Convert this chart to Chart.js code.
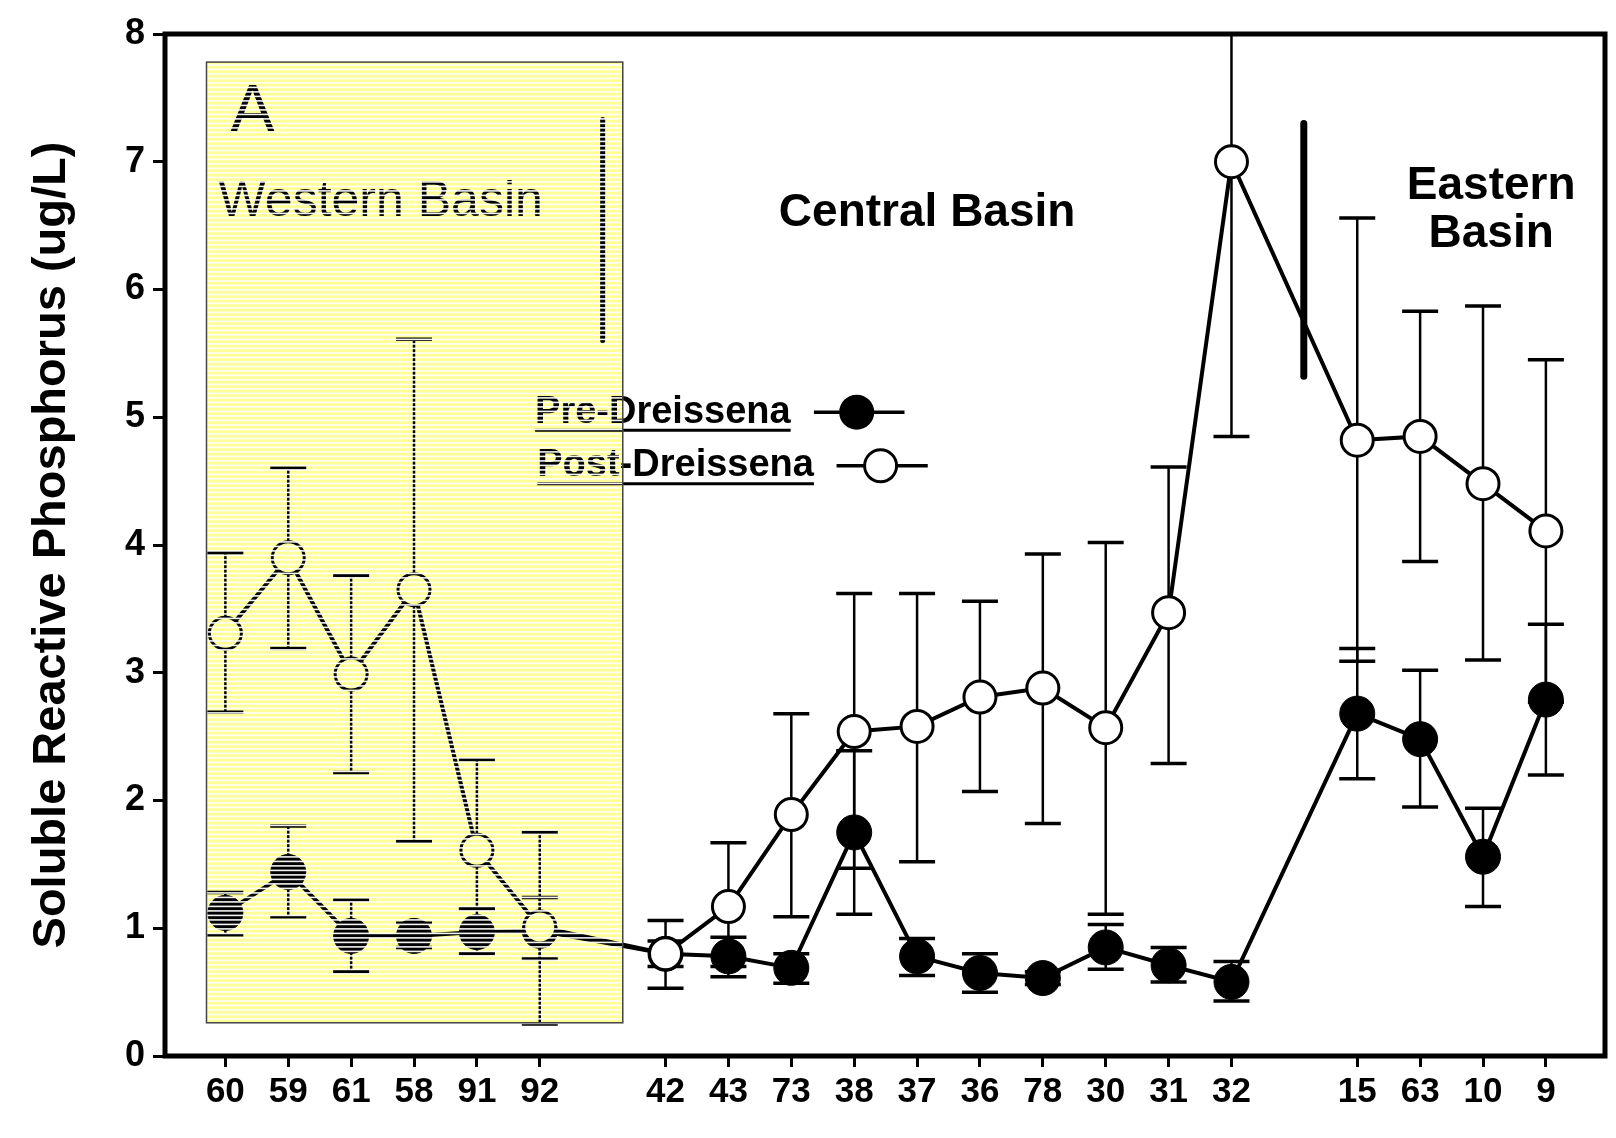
<!DOCTYPE html>
<html>
<head>
<meta charset="utf-8">
<script src="https://cdn.jsdelivr.net/npm/chart.js@4.4.1/dist/chart.umd.min.js"></script>
<style>
  html, body { margin: 0; padding: 0; background: #fff; }
  #wrap { width: 1616px; height: 1138px; }
</style>
</head>
<body>
<div id="wrap"><canvas id="srpChart" width="1616" height="1138"></canvas></div>
<script>
// stations along the lake, '' = gap between basins
const stations = ['60', '59', '61', '58', '91', '92', '', '42', '43', '73', '38', '37', '36', '78', '30', '31', '32', '', '15', '63', '10', '9'];

// Pre-Dreissena means and error bar ends
const pre     = [1.12, 1.44, 0.94, 0.94, 0.97, 0.98, null, 0.80, 0.78, 0.69, 1.75, 0.78, 0.65, 0.61, 0.85, 0.71, 0.58, null, 2.68, 2.48, 1.56, 2.79];
const preLow  = [0.95, 1.09, 0.66, 0.85, 0.80, 0.76, null, 0.70, 0.62, 0.57, 1.11, 0.63, 0.50, 0.56, 0.68, 0.58, 0.43, null, 2.17, 1.95, 1.17, 2.20];
const preHigh = [1.28, 1.80, 1.22, 1.04, 1.15, 1.24, null, 0.90, 0.93, 0.80, 2.39, 0.92, 0.80, 0.66, 1.03, 0.85, 0.74, null, 3.19, 3.02, 1.94, 3.38];

// Post-Dreissena means and error bar ends
const post     = [3.31, 3.90, 2.99, 3.65, 1.61, 1.01, null, 0.80, 1.17, 1.89, 2.54, 2.58, 2.81, 2.88, 2.57, 3.47, 7.00, null, 4.82, 4.85, 4.48, 4.11];
const postLow  = [2.69, 3.19, 2.22, 1.68, 1.15, 0.25, null, 0.53, 0.70, 1.09, 1.47, 1.52, 2.07, 1.82, 1.11, 2.29, 4.85, null, 3.09, 3.87, 3.10, 2.77];
const postHigh = [3.94, 4.60, 3.76, 5.61, 2.32, 1.75, null, 1.06, 1.67, 2.68, 3.62, 3.62, 3.56, 3.93, 4.02, 4.61, 9.15, null, 6.56, 5.83, 5.87, 5.45];

const yTicks = [0, 1, 2, 3, 4, 5, 6, 7, 8];

const FONT = '"Liberation Sans", Arial, sans-serif';

function toPoints(vals) {
  return vals.map((v, i) => ({ x: i, y: v }));
}

// error bars, drawn under the markers
const errorBars = {
  id: 'errorBars',
  beforeDatasetsDraw(chart) {
    const { ctx, chartArea, scales: { x, y } } = chart;
    ctx.save();
    ctx.beginPath();
    ctx.rect(chartArea.left, chartArea.top, chartArea.right - chartArea.left, chartArea.bottom - chartArea.top);
    ctx.clip();
    ctx.strokeStyle = '#000';
    [[preLow, preHigh], [postLow, postHigh]].forEach(([lo, hi]) => {
      lo.forEach((l, i) => {
        if (l == null) return;
        const px = x.getPixelForValue(i);
        const y1 = y.getPixelForValue(l);
        const y2 = y.getPixelForValue(hi[i]);
        ctx.lineWidth = 2.5;
        ctx.beginPath();
        ctx.moveTo(px, y1);
        ctx.lineTo(px, y2);
        ctx.stroke();
        ctx.lineWidth = 3.5;
        ctx.beginPath();
        ctx.moveTo(px - 18, y1); ctx.lineTo(px + 18, y1);
        ctx.moveTo(px - 18, y2); ctx.lineTo(px + 18, y2);
        ctx.stroke();
      });
    });
    ctx.restore();
  }
};

// texts, legend, dividers, the western basin overlay and the frame
const decorations = {
  id: 'decorations',
  afterDatasetsDraw(chart) {
    const { ctx, chartArea: ca, scales: { x, y } } = chart;
    const X = (v) => x.getPixelForValue(v);
    const Y = (v) => y.getPixelForValue(v);
    ctx.save();
    ctx.fillStyle = '#000';
    ctx.strokeStyle = '#000';
    ctx.textBaseline = 'middle';

    // basin labels
    ctx.font = 'bold 46px ' + FONT;
    ctx.textAlign = 'center';
    ctx.fillText('Central Basin', X(11.16), Y(6.6));
    ctx.fillText('Eastern', X(20.13), Y(6.81));
    ctx.fillText('Basin', X(20.13), Y(6.43));

    ctx.font = '66px ' + FONT;
    ctx.fillText('A', X(0.43), Y(7.38));
    ctx.font = '50px ' + FONT;
    ctx.fillText('Western Basin', X(2.47), Y(6.68));

    // basin dividers
    ctx.lineCap = 'round';
    ctx.lineWidth = 5;
    ctx.beginPath();
    ctx.moveTo(X(6.0), Y(7.33)); ctx.lineTo(X(6.0), Y(5.6));
    ctx.stroke();
    ctx.lineWidth = 7;
    ctx.beginPath();
    ctx.moveTo(X(17.15), Y(7.3)); ctx.lineTo(X(17.15), Y(5.32));
    ctx.stroke();
    ctx.lineCap = 'butt';

    // legend
    const rows = [
      { text: 'Pre-Dreissena', right: 8.99, yv: 5.04, l1: 9.36, l2: 10.8, c: 10.04, fill: '#000' },
      { text: 'Post-Dreissena', right: 9.36, yv: 4.62, l1: 9.72, l2: 11.17, c: 10.42, fill: '#fff' }
    ];
    ctx.font = 'bold 38px ' + FONT;
    ctx.textAlign = 'right';
    rows.forEach((r) => {
      const tx = X(r.right), ty = Y(r.yv);
      ctx.fillStyle = '#000';
      ctx.fillText(r.text, tx, ty);
      const w = ctx.measureText(r.text).width;
      ctx.lineWidth = 3;
      ctx.beginPath();
      ctx.moveTo(tx - w, ty + 18); ctx.lineTo(tx, ty + 18);
      ctx.stroke();
      ctx.lineWidth = 3.5;
      ctx.beginPath();
      ctx.moveTo(X(r.l1), ty); ctx.lineTo(X(r.l2), ty);
      ctx.stroke();
      ctx.beginPath();
      ctx.arc(X(r.c), ty, 16, 0, Math.PI * 2);
      ctx.fillStyle = r.fill;
      ctx.fill();
      ctx.lineWidth = 3;
      ctx.stroke();
    });

    // western basin: yellow scanned overlay
    const bl = X(-0.30), br = X(6.32), bt = Y(7.78), bb = Y(0.26);
    ctx.globalCompositeOperation = 'multiply';
    ctx.fillStyle = '#ffff98';
    ctx.fillRect(bl, bt, br - bl, bb - bt);
    ctx.globalCompositeOperation = 'source-over';
    ctx.fillStyle = 'rgba(255,255,255,0.95)';
    for (let yy = bt + 2; yy < bb; yy += 4.5) {
      ctx.fillRect(bl, yy, br - bl, 1.6);
    }
    ctx.strokeStyle = '#444';
    ctx.lineWidth = 1.5;
    ctx.strokeRect(bl, bt, br - bl, bb - bt);

    // frame
    ctx.strokeStyle = '#000';
    ctx.lineWidth = 5;
    ctx.strokeRect(ca.left, ca.top, ca.right - ca.left, ca.bottom - ca.top);

    // y axis title
    ctx.translate(52, 545);
    ctx.rotate(-Math.PI / 2);
    ctx.textAlign = 'center';
    ctx.fillStyle = '#000';
    ctx.font = 'bold 47px ' + FONT;
    ctx.fillText('Soluble Reactive Phosphorus (ug/L)', 0, 0);
    ctx.restore();
  }
};

const ctx = document.getElementById('srpChart').getContext('2d');
const srpChart = new Chart(ctx, {
  type: 'line',
  data: {
    datasets: [
      {
        label: 'Post-Dreissena',
        data: toPoints(post),
        borderColor: '#000',
        borderWidth: 4,
        pointRadius: 16,
        pointBorderWidth: 3,
        pointBackgroundColor: '#fff',
        pointBorderColor: '#000',
        spanGaps: true,
        fill: false
      },
      {
        label: 'Pre-Dreissena',
        data: toPoints(pre),
        borderColor: '#000',
        borderWidth: 4,
        pointRadius: 17.5,
        pointBorderWidth: 1,
        pointBackgroundColor: '#000',
        pointBorderColor: '#000',
        spanGaps: true,
        fill: false
      }
    ]
  },
  options: {
    responsive: false,
    animation: false,
    layout: { autoPadding: false, padding: { top: 34, right: 11, left: 0, bottom: 0 } },
    plugins: {
      legend: { display: false },
      tooltip: { enabled: false }
    },
    scales: {
      x: {
        type: 'linear',
        min: -0.96,
        max: 21.94,
        afterBuildTicks: (scale) => {
          scale.ticks = stations.map((s, i) => ({ value: i })).filter((t) => stations[t.value] !== '');
        },
        afterFit: (scale) => { scale.height = 82; },
        border: { display: false },
        grid: { drawOnChartArea: false, tickLength: 11, tickColor: '#000', tickWidth: 3 },
        ticks: {
          autoSkip: false,
          maxRotation: 0,
          padding: 4,
          color: '#000',
          font: { family: FONT, size: 35, weight: 'bold' },
          callback: (v) => stations[v]
        }
      },
      y: {
        min: 0,
        max: 8,
        afterBuildTicks: (scale) => { scale.ticks = yTicks.map((v) => ({ value: v })); },
        afterFit: (scale) => { scale.width = 165; },
        border: { display: false },
        grid: { drawOnChartArea: false, tickLength: 12, tickColor: '#000', tickWidth: 3 },
        ticks: {
          padding: 8,
          color: '#000',
          font: { family: FONT, size: 36, weight: 'bold' }
        }
      }
    }
  },
  plugins: [errorBars, decorations]
});
</script>
</body>
</html>
